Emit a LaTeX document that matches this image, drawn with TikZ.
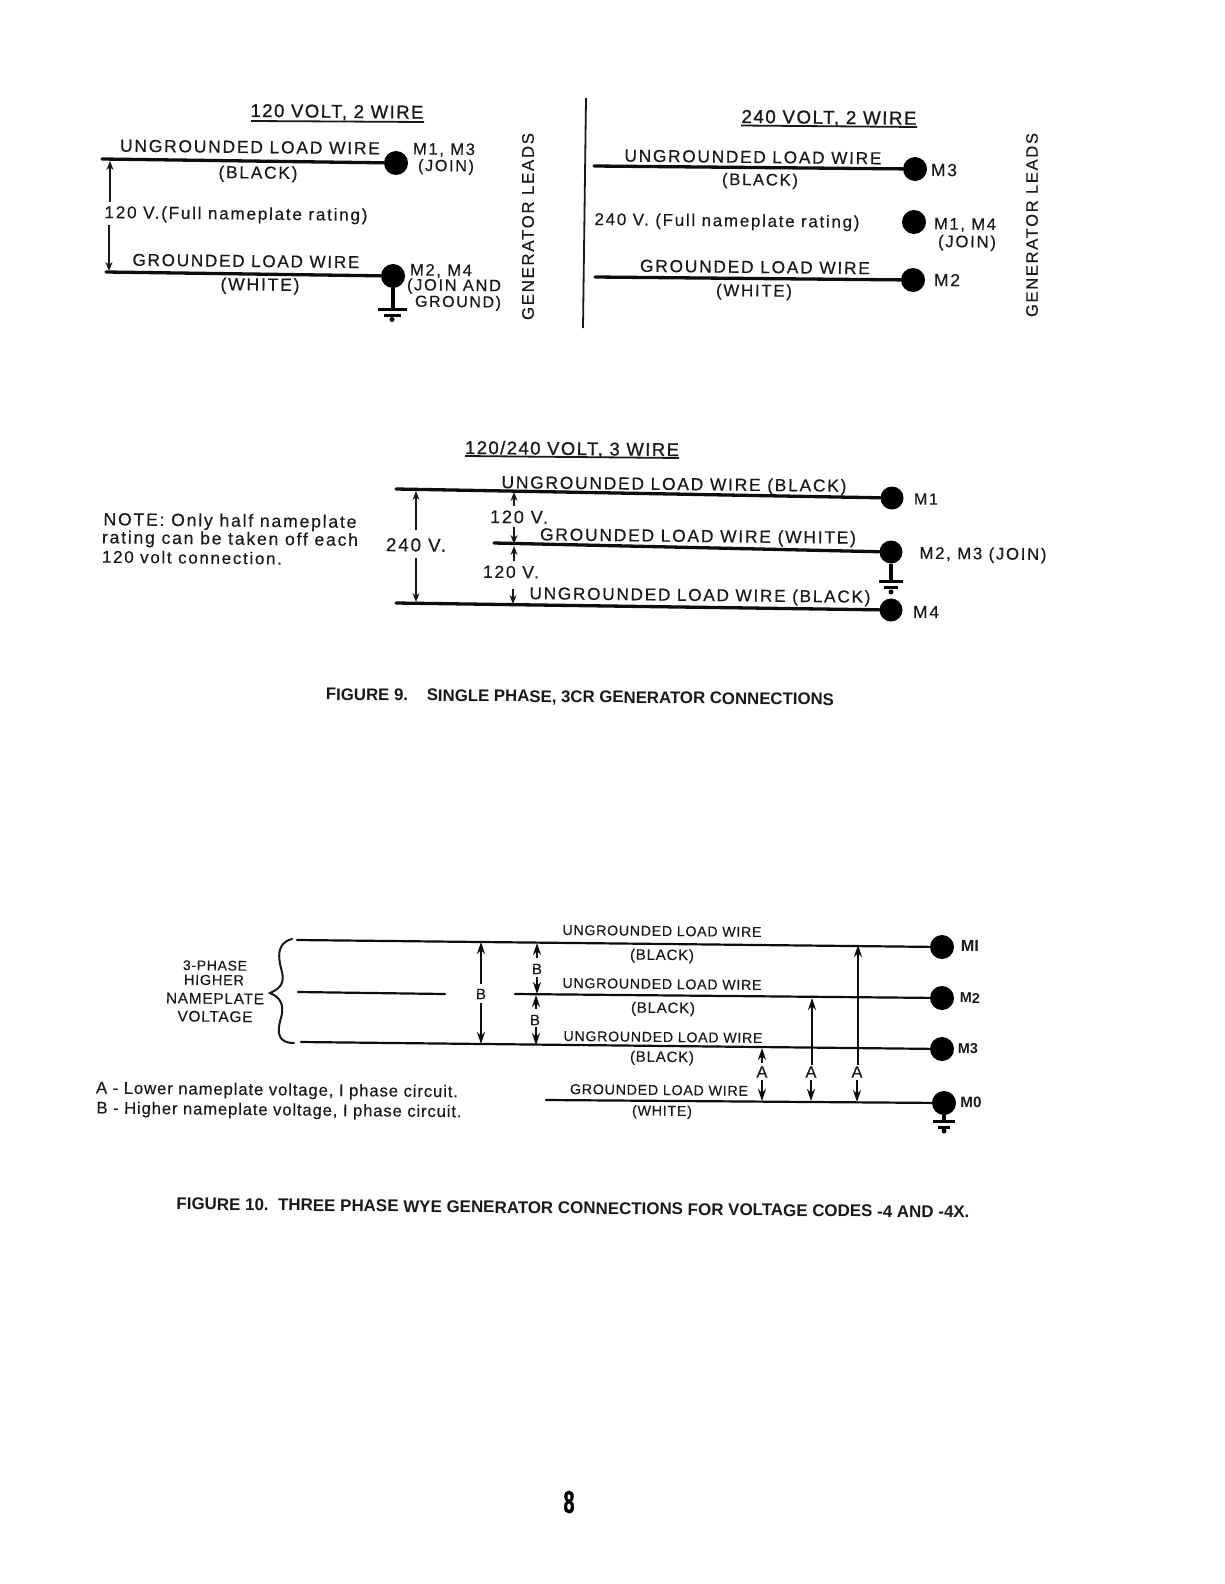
\documentclass[tikz,border=0pt]{standalone}
\usepackage{fontspec}
\usepackage{graphicx}
\setmainfont{Liberation Sans}
\newfontfamily\wideft[LetterSpace=10,FakeBold=0.35]{Liberation Sans}
\newfontfamily\headft[LetterSpace=8,FakeBold=1]{Liberation Sans}
\newfontfamily\midft[LetterSpace=5,FakeBold=0.3]{Liberation Sans}
\newfontfamily\boldft{Liberation Sans Bold}
\newfontfamily\heavyft[FakeBold=1.5]{Liberation Sans Bold}
\newcommand{\wt}[2]{\resizebox{#1pt}{!}{\fontsize{15}{18}\wideft #2}}
\newcommand{\hdt}[2]{\resizebox{#1pt}{!}{\fontsize{15}{18}\headft #2}}
\newcommand{\mt}[2]{\resizebox{#1pt}{!}{\fontsize{13}{16}\midft #2}}
\newcommand{\bt}[2]{\resizebox{#1pt}{!}{\fontsize{15}{18}\boldft #2}}
\usetikzlibrary{arrows.meta}
\tikzset{
  lbl/.style={inner sep=0pt,outer sep=0pt,yshift=-1pt,rotate=-0.6,text=black!90},
  vlbl/.style={inner sep=0pt,outer sep=0pt,rotate=90,text=black!90},
  wire/.style={line width=3.3pt,line cap=round,black!95},
  thinwire/.style={line width=2.2pt,line cap=round,black!95},
  rule/.style={line width=1.8pt,black!90},
  meas/.style={line width=1.4pt,black!90,-{Stealth[length=9pt,width=7pt]}},
  measb/.style={line width=1.9pt,black!95,-{Stealth[length=12pt,width=8pt]}},
  lead/.style={circle,fill=black,inner sep=0pt,minimum size=24pt},
  gstem/.style={line width=3.6pt,black},
  gbar/.style={line width=3pt,black},
  gdot/.style={circle,fill=black,inner sep=0pt,minimum size=5pt},
}
\begin{document}
\begin{tikzpicture}[x=1pt,y=-1pt]
\useasboundingbox (0,0) rectangle (1224,1584);
% ---------- 120 V, 2 wire
\node[lbl] (t1) at (337,111.5) {\hdt{173}{120 VOLT, 2 WIRE}};
\coordinate (t1a) at (251,121); \coordinate (t1b) at (424,122);
\draw[rule] (t1a) -- (t1b);
\node[lead] (a1) at (396,163) {};
\node[lead] (a2) at (393,276) {};
\coordinate (a1s) at (102,159); \coordinate (a2s) at (106,272);
\draw[wire] (a1s) -- (a1);
\draw[wire] (a2s) -- (a2);
\node[lbl] at (250,146) {\wt{260}{UNGROUNDED LOAD WIRE}};
\node[lbl] at (258,173) {\wt{79}{(BLACK)}};
\node[lbl] at (246,260) {\wt{227}{GROUNDED LOAD WIRE}};
\node[lbl] at (260,285) {\wt{79}{(WHITE)}};
\node[lbl] (av) at (236,214) {\wt{263}{120 V.(Full nameplate rating)}};
\coordinate (av1a) at (110,202); \coordinate (av1b) at (110,161);
\coordinate (av2a) at (109,225); \coordinate (av2b) at (109,271);
\draw[meas] (av1a) -- (av1b);
\draw[meas] (av2a) -- (av2b);
\node[lbl] at (444,149) {\wt{62}{M1, M3}};
\node[lbl] at (446,166) {\wt{56}{(JOIN)}};
\node[lbl] at (441,270) {\wt{62}{M2, M4}};
\node[lbl] at (454,285.5) {\wt{94}{(JOIN AND}};
\node[lbl] at (458,302) {\wt{86}{GROUND)}};
\coordinate (ag1) at (393,309); \coordinate (ag1a) at (378,309); \coordinate (ag1b) at (407,309);
\coordinate (ag2a) at (384,315); \coordinate (ag2b) at (401,315);
\draw[gstem] (a2) -- (ag1);
\draw[gbar] (ag1a) -- (ag1b);
\draw[gbar] (ag2a) -- (ag2b);
\node[gdot] at (392,319.5) {};
\node[vlbl] at (528,226.5) {\wt{187}{GENERATOR LEADS}};
% separator
\coordinate (sepa) at (586,98); \coordinate (sepb) at (583,328);
\draw[rule] (sepa) -- (sepb);
% ---------- 240 V, 2 wire
\node[lbl] at (829,117.5) {\hdt{175}{240 VOLT, 2 WIRE}};
\coordinate (t2a) at (741,125.5); \coordinate (t2b) at (917,127);
\draw[rule] (t2a) -- (t2b);
\node[lead] (b1) at (915,169) {};
\node[lead] (b2) at (914,222) {};
\node[lead] (b3) at (913,280) {};
\coordinate (b1s) at (594,166); \coordinate (b3s) at (595,277);
\draw[wire] (b1s) -- (b1);
\draw[wire] (b3s) -- (b3);
\node[lbl] at (753,156) {\wt{257}{UNGROUNDED LOAD WIRE}};
\node[lbl] at (760,180) {\wt{76}{(BLACK)}};
\node[lbl] at (755,266) {\wt{230}{GROUNDED LOAD WIRE}};
\node[lbl] at (754,291) {\wt{76}{(WHITE)}};
\node[lbl] at (727,221) {\wt{265}{240 V. (Full nameplate rating)}};
\node[lbl] at (944,169) {\wt{26}{M3}};
\node[lbl] at (965,224) {\wt{62}{M1, M4}};
\node[lbl] at (967,242) {\wt{58}{(JOIN)}};
\node[lbl] at (947,279) {\wt{26}{M2}};
\node[vlbl] at (1032,225) {\wt{184}{GENERATOR LEADS}};
% ---------- 120/240 V, 3 wire
\node[lbl] at (572,448.5) {\hdt{214}{120/240 VOLT, 3 WIRE}};
\coordinate (t3a) at (465,456); \coordinate (t3b) at (679,458);
\draw[rule] (t3a) -- (t3b);
\node[lead,minimum size=23pt] (c1) at (892,498) {};
\node[lead,minimum size=23pt] (c2) at (891,552) {};
\node[lead,minimum size=23pt] (c3) at (891,610) {};
\coordinate (c1s) at (396,489); \coordinate (c2s) at (494,543); \coordinate (c3s) at (396,603);
\draw[wire] (c1s) -- (c1);
\draw[wire] (c2s) -- (c2);
\draw[wire] (c3s) -- (c3);
\node[lbl] at (674,484.5) {\wt{345}{UNGROUNDED LOAD  WIRE (BLACK)}};
\node[lbl] at (698,536.5) {\wt{316}{GROUNDED LOAD WIRE (WHITE)}};
\node[lbl] at (700,595.5) {\wt{341}{UNGROUNDED LOAD WIRE (BLACK)}};
\node[lbl] at (926,498) {\wt{24}{M1}};
\node[lbl] at (983,554) {\wt{127}{M2, M3 (JOIN)}};
\node[lbl] at (926,611) {\wt{26}{M4}};
\node[lbl] at (416,544) {\wt{60}{240 V.}};
\node[lbl] at (519,516) {\wt{58}{120 V.}};
\node[lbl] at (511,571) {\wt{56}{120 V.}};
\coordinate (cm1a) at (416,530); \coordinate (cm1b) at (416,491);
\coordinate (cm2a) at (416,558); \coordinate (cm2b) at (416,602);
\draw[meas] (cm1a) -- (cm1b);
\draw[meas] (cm2a) -- (cm2b);
\coordinate (cm3a) at (514,506); \coordinate (cm3b) at (514,492);
\coordinate (cm4a) at (514,527); \coordinate (cm4b) at (514,544);
\coordinate (cm5a) at (514,561); \coordinate (cm5b) at (514,546);
\coordinate (cm6a) at (513,589); \coordinate (cm6b) at (513,604);
\draw[meas] (cm3a) -- (cm3b);
\draw[meas] (cm4a) -- (cm4b);
\draw[meas] (cm5a) -- (cm5b);
\draw[meas] (cm6a) -- (cm6b);
\coordinate (cg1) at (891,581); \coordinate (cg1a) at (879,581); \coordinate (cg1b) at (903,581);
\coordinate (cg2a) at (884,587); \coordinate (cg2b) at (898,587);
\draw[gstem] (c2) -- (cg1);
\draw[gbar] (cg1a) -- (cg1b);
\draw[gbar] (cg2a) -- (cg2b);
\node[gdot] at (891,592) {};
\node[lbl] at (230,521) {\wt{253}{NOTE: Only half nameplate}};
\node[lbl] at (230,539) {\wt{256}{rating can be taken off each}};
\node[lbl] at (192,556.5) {\wt{180}{120 volt connection.}};
\node[lbl] at (580,697) {\bt{508}{FIGURE 9.~~~~SINGLE PHASE, 3CR GENERATOR CONNECTIONS}};
% ---------- Figure 10
\node[lead,minimum size=24pt] (m1) at (942,947) {};
\node[lead,minimum size=24pt] (m2) at (942,998) {};
\node[lead,minimum size=24pt] (m3) at (942,1049) {};
\node[lead,minimum size=24pt] (m0) at (944,1103) {};
\coordinate (m1s) at (297,940); \coordinate (m2s) at (515,994);
\coordinate (m3s) at (301,1042); \coordinate (m0s) at (546,1100);
\coordinate (mmA) at (298,992); \coordinate (mmB) at (445,994);
\draw[thinwire] (m1s) -- (m1);
\draw[thinwire] (m2s) -- (m2);
\draw[thinwire] (m3s) -- (m3);
\draw[thinwire] (m0s) -- (m0);
\draw[thinwire] (mmA) -- (mmB);
\coordinate (brT) at (292,939); \coordinate (brM) at (270,993); \coordinate (brB) at (294,1043);
\draw[line width=2pt,black!90,line cap=round] (brT) .. controls (276,943) and (278,958) .. (282,972) .. controls (285,984) and (279,989) .. (brM) .. controls (279,997) and (285,1003) .. (281,1018) .. controls (276,1034) and (279,1043) .. (brB);
\node[lbl] at (662,930) {\mt{199}{UNGROUNDED LOAD WIRE}};
\node[lbl] at (662,955) {\mt{64}{(BLACK)}};
\node[lbl] at (662,983) {\mt{199}{UNGROUNDED LOAD WIRE}};
\node[lbl] at (663,1008) {\mt{64}{(BLACK)}};
\node[lbl] at (663,1036) {\mt{199}{UNGROUNDED LOAD WIRE}};
\node[lbl] at (662,1057) {\mt{64}{(BLACK)}};
\node[lbl] at (659,1089) {\mt{178}{GROUNDED LOAD WIRE}};
\node[lbl] at (662,1111) {\mt{60}{(WHITE)}};
\node[lbl] at (970,945) {\bt{18}{MI}};
\node[lbl] at (970,997) {\bt{20}{M2}};
\node[lbl] at (968,1048) {\bt{20}{M3}};
\node[lbl] at (971,1101) {\bt{21}{M0}};
\node[lbl] at (215,964.5) {\mt{64}{3-PHASE}};
\node[lbl] at (214,979) {\mt{60}{HIGHER}};
\node[lbl] at (215,997.5) {\mt{98}{NAMEPLATE}};
\node[lbl] at (215,1015.5) {\mt{75}{VOLTAGE}};
\node[lbl] at (277,1090) {\mt{362}{A - Lower nameplate voltage, I phase circuit.}};
\node[lbl] at (279,1110) {\mt{365}{B - Higher nameplate voltage, I phase circuit.}};
% B arrows
\node[lbl] at (481,993) {\mt{10}{B}};
\node[lbl] at (537,968) {\mt{10}{B}};
\node[lbl] at (535,1019) {\mt{10}{B}};
\coordinate (bm1a) at (481,984); \coordinate (bm1b) at (481,942);
\coordinate (bm2a) at (481,1003); \coordinate (bm2b) at (481,1044);
\draw[measb] (bm1a) -- (bm1b);
\draw[measb] (bm2a) -- (bm2b);
\coordinate (bm3a) at (537,958); \coordinate (bm3b) at (537,943);
\coordinate (bm4a) at (537,977); \coordinate (bm4b) at (537,994);
\coordinate (bm5a) at (536,1009); \coordinate (bm5b) at (536,995);
\coordinate (bm6a) at (536,1027); \coordinate (bm6b) at (536,1045);
\draw[measb] (bm3a) -- (bm3b);
\draw[measb] (bm4a) -- (bm4b);
\draw[measb] (bm5a) -- (bm5b);
\draw[measb] (bm6a) -- (bm6b);
% A arrows
\node[lbl] at (762,1071) {\mt{11}{A}};
\node[lbl] at (811,1071) {\mt{11}{A}};
\node[lbl] at (857,1071) {\mt{11}{A}};
\coordinate (am1a) at (762,1063); \coordinate (am1b) at (762,1048);
\coordinate (am2a) at (812,1065); \coordinate (am2b) at (812,998);
\coordinate (am3a) at (858,1065); \coordinate (am3b) at (858,945);
\coordinate (am4a) at (762,1080); \coordinate (am4b) at (762,1101);
\coordinate (am5a) at (811,1080); \coordinate (am5b) at (811,1101);
\coordinate (am6a) at (857,1080); \coordinate (am6b) at (857,1102);
\draw[measb] (am1a) -- (am1b);
\draw[measb] (am2a) -- (am2b);
\draw[measb] (am3a) -- (am3b);
\draw[measb] (am4a) -- (am4b);
\draw[measb] (am5a) -- (am5b);
\draw[measb] (am6a) -- (am6b);
\coordinate (mg1) at (944,1121); \coordinate (mg1a) at (933,1121); \coordinate (mg1b) at (955,1121);
\coordinate (mg2a) at (938,1127); \coordinate (mg2b) at (950,1127);
\draw[gstem] (m0) -- (mg1);
\draw[gbar] (mg1a) -- (mg1b);
\draw[gbar] (mg2a) -- (mg2b);
\node[gdot] at (944,1131) {};
\node[lbl] at (573,1207) {\bt{793}{FIGURE 10.~~THREE PHASE WYE GENERATOR CONNECTIONS FOR VOLTAGE CODES -4 AND -4X.}};
\node[inner sep=0pt] at (569,1502) {\resizebox{11pt}{22pt}{\heavyft 8}};
\end{tikzpicture}
\end{document}
